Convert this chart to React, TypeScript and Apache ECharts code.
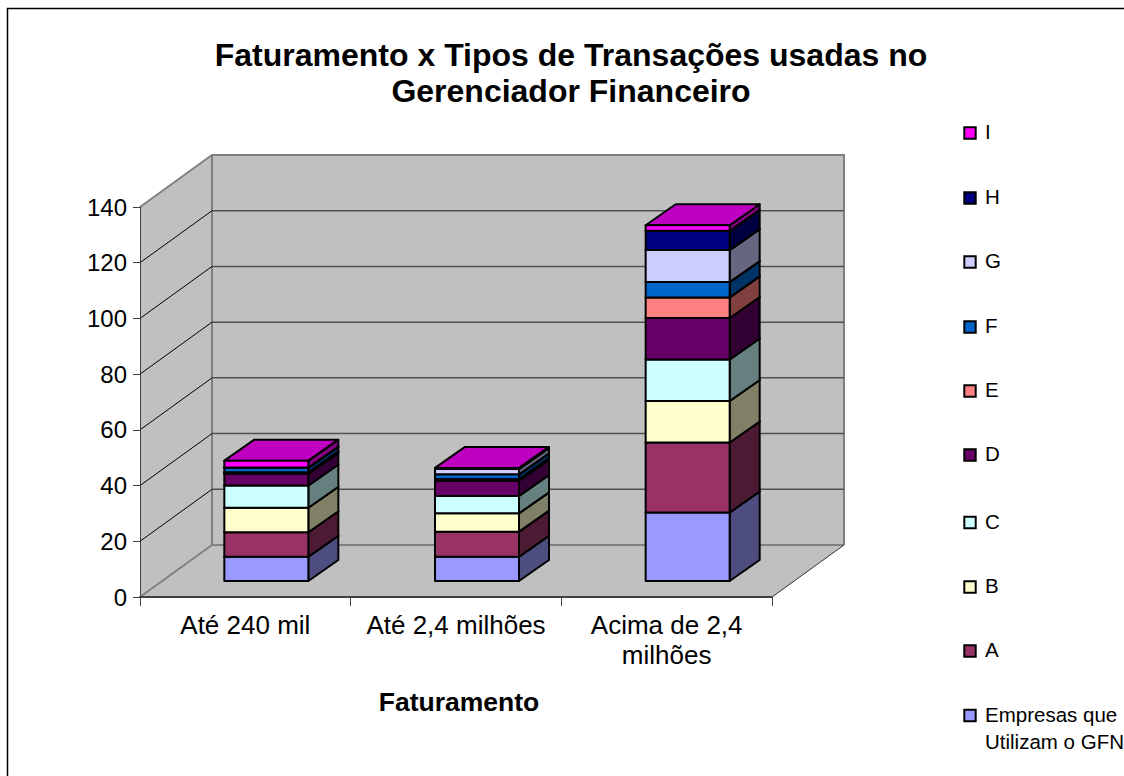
import React, { useEffect, useRef } from "react";
import * as echarts from "echarts";

const categories = ["Até 240 mil", "Até 2,4 milhões", "Acima de 2,4\nmilhões"];
const yTicks = [0, 20, 40, 60, 80, 100, 120, 140];
const seriesNames = ["Empresas que\nUtilizam o GFN", "A", "B", "C", "D", "E", "F", "G", "H", "I"];
const empresas = [8.7, 8.7, 24.6];
const serieA = [8.8, 9, 25.1];
const serieB = [8.8, 6.6, 14.9];
const serieC = [8, 6.2, 14.9];
const serieD = [4.2, 5.5, 14.9];
const serieE = [0.5, 0.6, 7.4];
const serieF = [1.7, 1.7, 5.5];
const serieG = [0, 1.9, 11.5];
const serieH = [0, 0, 6.9];
const serieI = [2.5, 0.4, 2];
const allValues = [empresas, serieA, serieB, serieC, serieD, serieE, serieF, serieG, serieH, serieI];
const frontColors = ["#9999FF", "#993366", "#FFFFCC", "#CCFFFF", "#660066", "#FF8080", "#0066CC", "#CCCCFF", "#000080", "#FF00FF"];
const sideColors = ["#4D4D80", "#4D1A33", "#808066", "#668080", "#330033", "#804040", "#003366", "#666680", "#000040", "#800080"];
const topColors = ["#7373BF", "#732640", "#BFBF99", "#99BFBF", "#4D004D", "#BF6060", "#004D99", "#9999BF", "#000060", "#C000C0"];
const legendY = [715.5, 651, 587, 522.5, 455, 391, 327, 262, 198, 133];

const FONT = "Liberation Sans";
const WALL_DX = 72;
const WALL_DY = -52;
const BAR_HALF = 42;
const BAR_OFF_X = 21;
const BAR_OFF_Y = -16;
const BAR_DX = 30;
const BAR_DY = -21;

function wallItem(params: any, api: any) {
  const v = api.value(1);
  const band = api.size([1, 0])[0];
  const c = api.coord([0, v]);
  const left = c[0] - band / 2;
  const y = c[1];
  const right = left + band * categories.length;
  const children: any[] = [];
  if (params.dataIndex === 0) {
    const top = api.coord([0, 140])[1];
    const wallStyle = { fill: "#C0C0C0", stroke: "none" };
    const edge = { stroke: "#808080", lineWidth: 2 };
    children.push(
      { type: "polygon", shape: { points: [[left, top], [left + WALL_DX, top + WALL_DY], [left + WALL_DX, y + WALL_DY], [left, y]] }, style: wallStyle },
      { type: "polygon", shape: { points: [[left + WALL_DX, top + WALL_DY], [right + WALL_DX, top + WALL_DY], [right + WALL_DX, y + WALL_DY], [left + WALL_DX, y + WALL_DY]] }, style: wallStyle },
      { type: "polygon", shape: { points: [[left, y], [left + WALL_DX, y + WALL_DY], [right + WALL_DX, y + WALL_DY], [right, y]] }, style: wallStyle },
      { type: "polyline", shape: { points: [[left, top], [left + WALL_DX, top + WALL_DY], [right + WALL_DX, top + WALL_DY], [right + WALL_DX, y + WALL_DY]] }, style: { ...edge, fill: "none" } },
      { type: "line", shape: { x1: left + WALL_DX, y1: top + WALL_DY, x2: left + WALL_DX, y2: y + WALL_DY }, style: edge },
      { type: "line", shape: { x1: left, y1: y, x2: left + WALL_DX, y2: y + WALL_DY }, style: edge },
      { type: "line", shape: { x1: left + WALL_DX, y1: y + WALL_DY, x2: right + WALL_DX, y2: y + WALL_DY }, style: edge },
      { type: "line", shape: { x1: right, y1: y, x2: right + WALL_DX, y2: y + WALL_DY }, style: { stroke: "#333333", lineWidth: 1 } }
    );
  } else if (v < 140) {
    children.push(
      { type: "line", shape: { x1: left, y1: y, x2: left + WALL_DX, y2: y + WALL_DY }, style: { stroke: "#000000", lineWidth: 1 } },
      { type: "line", shape: { x1: left + WALL_DX, y1: y + WALL_DY, x2: right + WALL_DX, y2: y + WALL_DY }, style: { stroke: "#505050", lineWidth: 1.5 } }
    );
  }
  return { type: "group", children };
}

function barItem(seriesIdx: number) {
  return (_params: any, api: any) => {
    const cat = api.value(0);
    const a = api.coord([cat, api.value(1)]);
    const b = api.coord([cat, api.value(2)]);
    const x0 = a[0] + BAR_OFF_X - BAR_HALF;
    const x1 = a[0] + BAR_OFF_X + BAR_HALF;
    const y0 = a[1] + BAR_OFF_Y;
    const y1 = b[1] + BAR_OFF_Y;
    const line = { stroke: "#000000", lineWidth: 2, lineJoin: "round" };
    return {
      type: "group",
      children: [
        { type: "polygon", shape: { points: [[x1, y0], [x1 + BAR_DX, y0 + BAR_DY], [x1 + BAR_DX, y1 + BAR_DY], [x1, y1]] }, style: { ...line, fill: sideColors[seriesIdx] } },
        { type: "polygon", shape: { points: [[x0, y1], [x0 + BAR_DX, y1 + BAR_DY], [x1 + BAR_DX, y1 + BAR_DY], [x1, y1]] }, style: { ...line, fill: topColors[seriesIdx] } },
        { type: "polygon", shape: { points: [[x0, y0], [x1, y0], [x1, y1], [x0, y1]] }, style: { ...line, fill: frontColors[seriesIdx] } },
      ],
    };
  };
}

export default function App() {
  const ref = useRef<HTMLDivElement>(null);
  useEffect(() => {
    const chart = echarts.init(ref.current!, undefined, { renderer: "svg" });
    const running = categories.map(() => 0);
    const barSeries = allValues.map((vals, si) => ({
      type: "custom",
      name: seriesNames[si],
      z: 4,
      silent: true,
      renderItem: barItem(si),
      encode: { x: 0, y: [1, 2] },
      data: vals.map((v, ci) => {
        const base = running[ci];
        running[ci] = base + v;
        return [ci, base, base + v];
      }),
    }));
    const legendGraphics: any[] = [];
    seriesNames.forEach((name, i) => {
      const y = legendY[i];
      legendGraphics.push({ type: "rect", shape: { x: 964.3, y: y - 5.7, width: 11.4, height: 11.4 }, style: { fill: frontColors[i], stroke: "#000", lineWidth: 2 } });
      legendGraphics.push({
        type: "text", x: 985, y: y - 14.7,
        style: { text: name, font: `20.5px "${FONT}"`, fill: "#000", lineHeight: 27, textAlign: "left", textVerticalAlign: "top" },
      });
    });
    chart.setOption({
      animation: false,
      backgroundColor: "#ffffff",
      title: {
        text: "Faturamento x Tipos de Transações usadas no\nGerenciador Financeiro",
        left: 566, top: 32, textAlign: "center",
        textStyle: { fontFamily: FONT, fontSize: 32, fontWeight: "bold", color: "#000", lineHeight: 36 },
      },
      grid: { left: 140, top: 207, width: 632, height: 390 },
      xAxis: {
        type: "category", data: categories, z: 3,
        axisLine: { lineStyle: { color: "#404040", width: 2 } },
        axisTick: { show: true, alignWithLabel: false, length: 9, lineStyle: { color: "#404040", width: 1 } },
        axisLabel: { fontFamily: FONT, fontSize: 26, color: "#000", margin: 13, lineHeight: 30, interval: 0 },
        name: "Faturamento", nameLocation: "middle", nameGap: 91,
        nameTextStyle: { fontFamily: FONT, fontSize: 26.5, fontWeight: "bold", color: "#000", padding: [0, 0, 0, 6] },
      },
      yAxis: {
        type: "value", min: 0, max: 140, interval: 20, z: 3,
        axisLine: { show: true, lineStyle: { color: "#404040", width: 1 } },
        axisTick: { show: true, length: 7, lineStyle: { color: "#404040", width: 1 } },
        axisLabel: { fontFamily: FONT, fontSize: 24, color: "#000", margin: 13 },
        splitLine: { show: false },
      },
      graphic: [
        { type: "rect", z: 0, shape: { x: 7.5, y: 8.5, width: 2000, height: 2000 }, style: { fill: "none", stroke: "#000", lineWidth: 1.5 } },
        ...legendGraphics,
      ],
      series: [
        { type: "custom", z: 1, silent: true, renderItem: wallItem, encode: { x: 0, y: 1 }, data: yTicks.map((t) => [0, t]) },
        ...barSeries,
      ],
    });
    return () => chart.dispose();
  }, []);
  return <div ref={ref} style={{ position: "absolute", left: 0, top: 0, width: 1124, height: 776 }} />;
}
